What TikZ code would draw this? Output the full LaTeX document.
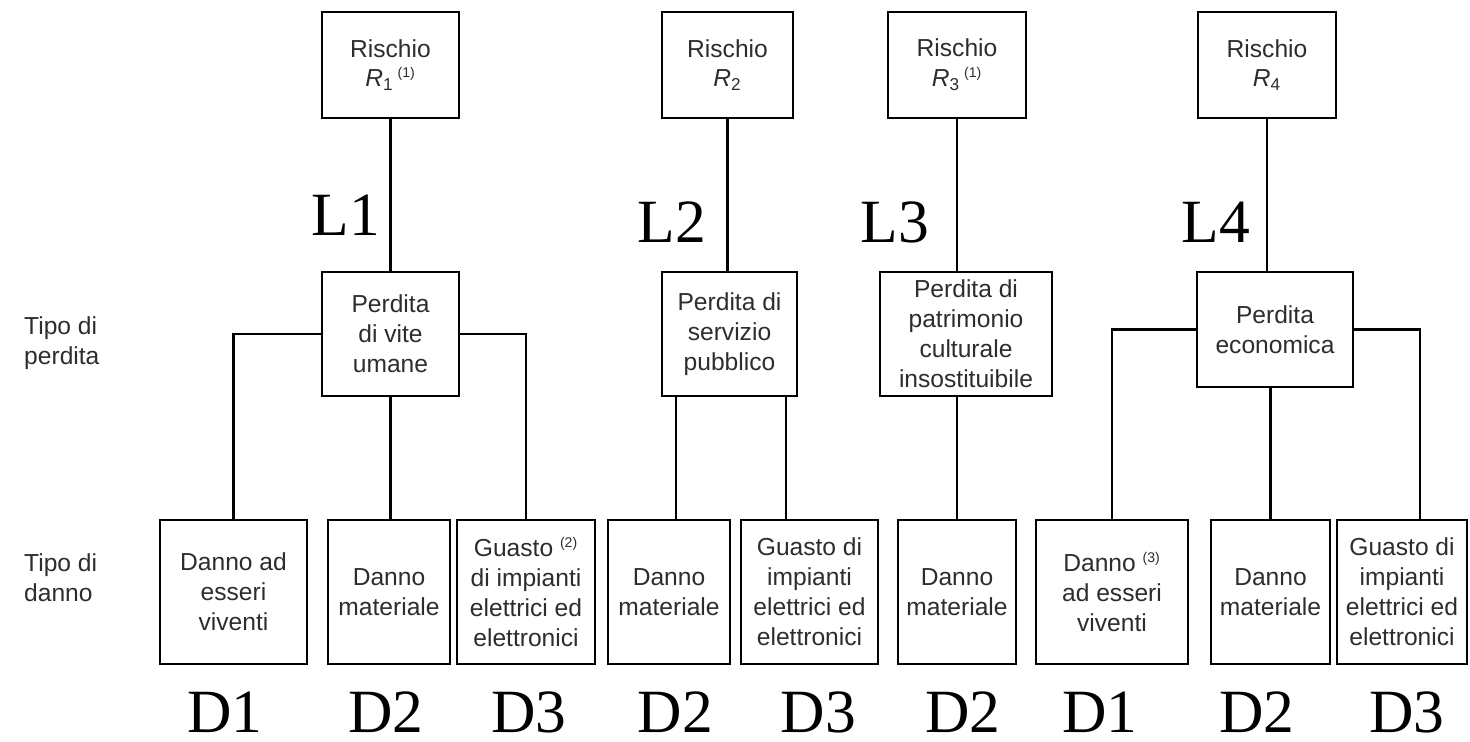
\documentclass[tikz,border=0pt]{standalone}
\usepackage{fontspec}
\setmainfont{Liberation Sans}
\newfontfamily\serifgrande{Liberation Serif}
\usepackage{xcolor}
\usepackage{tikz}
\definecolor{GrigioTesto}{RGB}{45,45,45}
\newcommand{\nota}[1]{\textsuperscript{\fontsize{8}{8}\selectfont(#1)}}

\begin{document}
\begin{tikzpicture}[x=0.02cm,y=-0.02cm,
  riquadro/.style={draw,line width=1.6pt,inner sep=0pt,align=center,text=GrigioTesto,font=\fontsize{14}{17}\selectfont},
  misura/.style 2 args={minimum width=#1*0.02cm,minimum height=#2*0.02cm},
  grande/.style={inner sep=0pt,font=\serifgrande\fontsize{35}{40}\selectfont},
  laterale/.style={anchor=west,align=left,text=GrigioTesto,font=\fontsize{14}{17}\selectfont},
  linea/.style={line width=1.6pt}]
  \useasboundingbox (0,0) rectangle (1470,742);
  % rischi
  \node[riquadro,misura={137}{106}] (r1) at (390.5,65) {Rischio\\\textit{R}\textsubscript{1}\,\nota{1}};
  \node[riquadro,misura={131}{106}] (r2) at (727.5,65) {Rischio\\\textit{R}\textsubscript{2}};
  \node[riquadro,misura={138}{106}] (r3) at (957,65) {Rischio\\\textit{R}\textsubscript{3}\,\nota{1}};
  \node[riquadro,misura={138}{106}] (r4) at (1267,65) {Rischio\\\textit{R}\textsubscript{4}};
  % tipo di perdita
  \node[riquadro,misura={137}{124}] (m1) at (390.5,334) {Perdita\\di vite\\umane};
  \node[riquadro,misura={135}{124}] (m2) at (729.5,334) {Perdita di\\servizio\\pubblico};
  \node[riquadro,misura={172}{124}] (m3) at (966,334) {Perdita di\\patrimonio\\culturale\\insostituibile};
  \node[riquadro,misura={156}{115}] (m4) at (1275,329.5) {Perdita\\economica};
  % tipo di danno
  \node[riquadro,misura={147}{144}] (b1) at (233.5,592) {Danno ad\\esseri\\viventi};
  \node[riquadro,misura={122}{144}] (b2) at (389,592) {Danno\\materiale};
  \node[riquadro,misura={138}{144}] (b3) at (526,592) {Guasto \nota{2}\\di impianti\\elettrici ed\\elettronici};
  \node[riquadro,misura={122}{144}] (b4) at (669,592) {Danno\\materiale};
  \node[riquadro,misura={137}{144}] (b5) at (809.5,592) {Guasto di\\impianti\\elettrici ed\\elettronici};
  \node[riquadro,misura={118}{144}] (b6) at (957,592) {Danno\\materiale};
  \node[riquadro,misura={152}{144}] (b7) at (1112,592) {Danno \nota{3}\\ad esseri\\viventi};
  \node[riquadro,misura={119}{144}] (b8) at (1270.5,592) {Danno\\materiale};
  \node[riquadro,misura={130}{144}] (b9) at (1402,592) {Guasto di\\impianti\\elettrici ed\\elettronici};
  % etichette a sinistra
  \node[laterale] (tp) at (18,343) {Tipo di\\perdita};
  \node[laterale] (td) at (18,578) {Tipo di\\danno};
  % collegamenti
  \draw[linea] (r1) -- (m1);
  \draw[linea] (r2.south) -- (r2.south |- m2.north);
  \draw[linea] (r3.south) -- (r3.south |- m3.north);
  \draw[linea] (r4.south) -- (r4.south |- m4.north);
  \draw[linea] (m1.west) -| (b1.north);
  \draw[linea] (m1.south) -- (m1.south |- b2.north);
  \draw[linea] (m1.east) -| (b3.north);
  \coordinate (m2a) at ([xshift=0.14cm]b4.north);
  \coordinate (m2b) at ([xshift=-0.47cm]b5.north);
  \draw[linea] (m2a) -- (m2a |- m2.south);
  \draw[linea] (m2b) -- (m2b |- m2.south);
  \draw[linea] (b6.north) -- (b6.north |- m3.south);
  \draw[linea] (m4.west) -| (b7.north);
  \draw[linea] (b8.north) -- (b8.north |- m4.south);
  \draw[linea] (m4.east) -| ([xshift=0.36cm]b9.north);
  % L e D
  \foreach \x/\y/\t [count=\i] in {346/215/L1,672/222/L2,895/222/L3,1216/222/L4}
    \node[grande] (l\i) at (\x,\y) {\t};
  \foreach \x/\t [count=\i] in {225/D1,386/D2,529/D3,675.5/D2,818.5/D3,963/D2,1100/D1,1257/D2,1407/D3}
    \node[grande] (d\i) at (\x,712) {\t};
\end{tikzpicture}
\end{document}
